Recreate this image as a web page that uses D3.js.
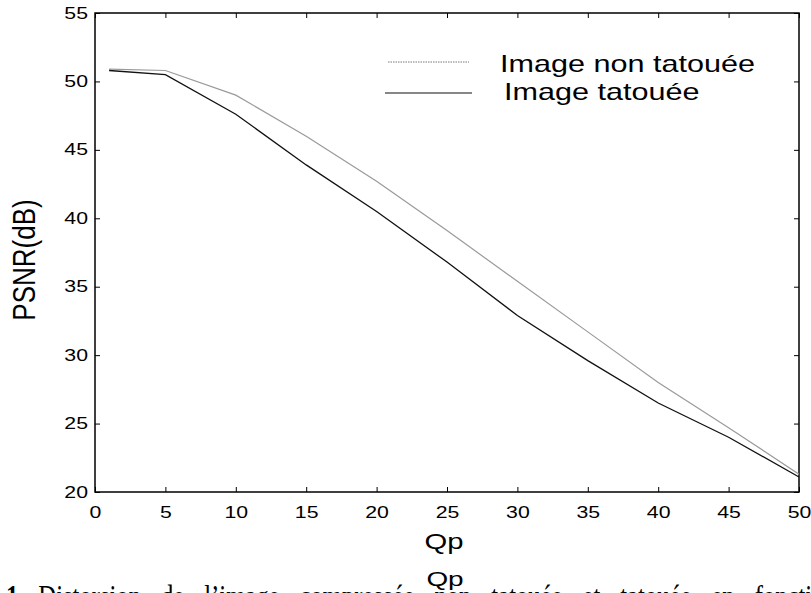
<!DOCTYPE html>
<html>
<head>
<meta charset="utf-8">
<script src="https://cdn.jsdelivr.net/npm/d3@7"></script>
<style>
  body { margin: 0; background: #fff; }
  svg { display: block; }
</style>
</head>
<body>
<svg width="811" height="593"></svg>
<script>
// Qp values and PSNR curves
var qp = [1, 5, 10, 15, 20, 25, 30, 35, 40, 45, 50];
var psnrNonTatouee = [50.9, 50.8, 49.0, 46.0, 42.7, 39.1, 35.4, 31.7, 28.0, 24.7, 21.3];
var psnrTatouee = [50.8, 50.5, 47.6, 43.9, 40.5, 36.8, 32.9, 29.6, 26.5, 24.0, 21.1];
var xTicks = [0, 5, 10, 15, 20, 25, 30, 35, 40, 45, 50];
var yTicks = [20, 25, 30, 35, 40, 45, 50, 55];
var legendLabels = ["Image non tatouée", "Image tatouée"];

//plot box in pixels
var box = { left: 95, right: 799, top: 13, bottom: 492 };
//the original picture is stretched sideways, so is its text
var sx = 1.33;

var svg = d3.select("svg");
var font = "'Liberation Sans', Arial, sans-serif";

var x = d3.scaleLinear().domain([0, 50]).range([box.left, box.right]);
var y = d3.scaleLinear().domain([20, 55]).range([box.bottom, box.top]);

//ticks, inward on all four sides
var tk = 5;
var gB = svg.append("g").attr("transform", "translate(0," + box.bottom + ")")
    .call(d3.axisBottom(x).tickValues(xTicks).tickSizeInner(-tk).tickSizeOuter(0));
var gT = svg.append("g").attr("transform", "translate(0," + box.top + ")")
    .call(d3.axisTop(x).tickValues(xTicks).tickSizeInner(-tk).tickSizeOuter(0).tickFormat(""));
var gL = svg.append("g").attr("transform", "translate(" + box.left + ",0)")
    .call(d3.axisLeft(y).tickValues(yTicks).tickSizeInner(-tk).tickSizeOuter(0));
var gR = svg.append("g").attr("transform", "translate(" + box.right + ",0)")
    .call(d3.axisRight(y).tickValues(yTicks).tickSizeInner(-tk).tickSizeOuter(0).tickFormat(""));

[gB, gT, gL, gR].forEach(function (g) {
    g.select(".domain").remove();
    g.selectAll("line").attr("stroke", "#000");
    g.selectAll("text").attr("fill", "#000")
        .style("font-family", font).style("font-size", "16px");
});
gB.selectAll("text")
    .attr("y", 0).attr("dy", 0).attr("x", 0)
    .attr("transform", "translate(0,26) scale(" + sx + ",1)");
gL.selectAll("text")
    .attr("x", 0)
    .attr("transform", "translate(-7,0) scale(" + sx + ",1)");

//box
svg.append("rect")
    .attr("x", box.left).attr("y", box.top)
    .attr("width", box.right - box.left).attr("height", box.bottom - box.top)
    .attr("fill", "none").attr("stroke", "#000").attr("stroke-width", 1.5);

//curves
var line = d3.line()
    .x(function (d, i) { return x(qp[i]); })
    .y(function (d) { return y(d); });

svg.append("path").datum(psnrNonTatouee)
    .attr("d", line)
    .attr("fill", "none").attr("stroke", "#9a9a9a").attr("stroke-width", 1.2);
svg.append("path").datum(psnrTatouee)
    .attr("d", line)
    .attr("fill", "none").attr("stroke", "#111").attr("stroke-width", 1.3);

//legend
var leg = svg.append("g");
leg.append("line").attr("x1", 388).attr("x2", 469).attr("y1", 62).attr("y2", 62)
    .attr("stroke", "#777").attr("stroke-width", 1).attr("stroke-dasharray", "1.5,1");
leg.append("line").attr("x1", 385).attr("x2", 472).attr("y1", 93).attr("y2", 93)
    .attr("stroke", "#111").attr("stroke-width", 1.2);
leg.append("text").attr("transform", "translate(500,72) scale(" + sx + ",1)").text(legendLabels[0]);
leg.append("text").attr("transform", "translate(504,100) scale(" + sx + ",1)").text(legendLabels[1]);
leg.selectAll("text").style("font-family", font).style("font-size", "23px").attr("fill", "#000");

//axis labels
svg.append("text")
    .attr("transform", "translate(444,549) scale(" + sx + ",1)")
    .attr("text-anchor", "middle")
    .style("font-family", font).style("font-size", "22px")
    .text("Qp");
svg.append("text")
    .attr("transform", "translate(35,260) scale(1.2,1) rotate(-90)")
    .attr("text-anchor", "middle")
    .style("font-family", font).style("font-size", "26px")
    .text("PSNR(dB)");

//caption, cut off at the bottom of the picture
var cap = svg.append("text")
    .attr("transform", "translate(6,607) scale(0.77,1)")
    .style("font-family", "'Liberation Serif', 'Times New Roman', serif")
    .style("font-size", "32px")
    .style("word-spacing", "18px");
cap.append("tspan").style("font-weight", "bold").text("1 ");
cap.append("tspan").text("Distorsion de l’image compressée non tatouée et tatouée en fonction de Qp");

svg.append("text")
    .attr("transform", "translate(445,586) scale(" + sx + ",1)")
    .attr("text-anchor", "middle")
    .style("font-family", font).style("font-size", "21px")
    .text("Qp");
</script>
</body>
</html>
